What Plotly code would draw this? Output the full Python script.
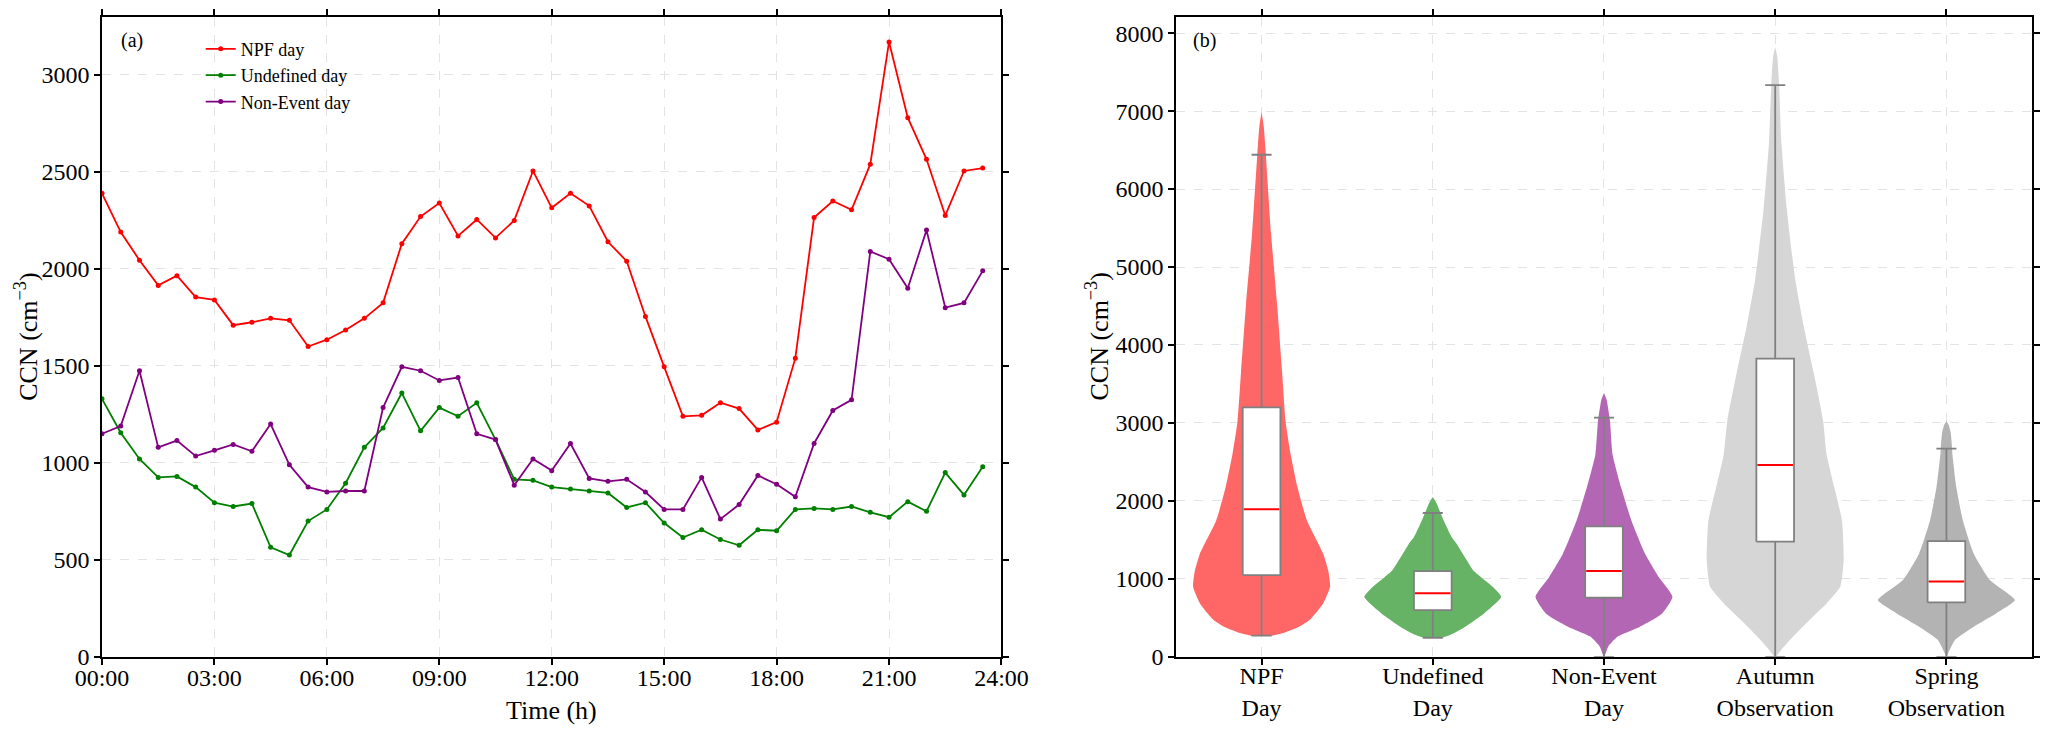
import plotly.graph_objects as go

# ---- panel (a): diurnal CCN, half-hour steps ----
hours = [0.0, 0.5, 1.0, 1.5, 2.0, 2.5, 3.0, 3.5, 4.0, 4.5, 5.0, 5.5,
         6.0, 6.5, 7.0, 7.5, 8.0, 8.5, 9.0, 9.5, 10.0, 10.5, 11.0, 11.5,
         12.0, 12.5, 13.0, 13.5, 14.0, 14.5, 15.0, 15.5, 16.0, 16.5, 17.0, 17.5,
         18.0, 18.5, 19.0, 19.5, 20.0, 20.5, 21.0, 21.5, 22.0, 22.5, 23.0, 23.5]

npf_day = [2390, 2190, 2045, 1915, 1965, 1855, 1840, 1710, 1725, 1745, 1735, 1600,
           1635, 1685, 1745, 1825, 2130, 2270, 2340, 2170, 2255, 2160, 2250, 2505,
           2315, 2390, 2325, 2140, 2040, 1755, 1495, 1240, 1245, 1310, 1280, 1170,
           1210, 1540, 2265, 2350, 2305, 2540, 3170, 2780, 2565, 2275, 2505, 2520]

undefined_day = [1330, 1155, 1020, 925, 930, 875, 795, 775, 790, 565, 525, 700,
                 760, 895, 1080, 1180, 1360, 1165, 1285, 1240, 1310, 1120, 915, 910,
                 875, 865, 855, 845, 770, 795, 690, 615, 655, 605, 575, 655,
                 650, 760, 765, 760, 775, 745, 720, 800, 750, 950, 835, 980]

non_event_day = [1150, 1190, 1475, 1080, 1115, 1035, 1065, 1095, 1060, 1200, 990, 875,
                 850, 855, 855, 1285, 1495, 1475, 1425, 1440, 1150, 1120, 885, 1020,
                 960, 1100, 920, 905, 915, 850, 760, 760, 925, 710, 785, 935,
                 890, 825, 1100, 1270, 1325, 2090, 2050, 1900, 2200, 1800, 1825, 1990]

time_ticks = [0, 3, 6, 9, 12, 15, 18, 21, 24]
time_labels = ["00:00", "03:00", "06:00", "09:00", "12:00", "15:00", "18:00", "21:00", "24:00"]

# ---- panel (b): distributions ----
groups = ["NPF<br>Day", "Undefined<br>Day", "Non-Event<br>Day",
          "Autumn<br>Observation", "Spring<br>Observation"]
q1 = [1048, 600, 758, 1477, 698]
median = [1892, 817, 1100, 2460, 966]
q3 = [3199, 1100, 1673, 3824, 1485]
whisker_low = [272, 245, 0, 0, 0]
whisker_high = [6440, 1845, 3068, 7333, 2670]

# violin outlines: CCN level and half width (in category units)
npf_levels = [268, 302, 387, 472, 685, 898, 1100, 1323, 1749, 2174, 2600, 3026,
              3652, 4545, 5439, 6440, 6800, 6988]
npf_hw = [0.055, 0.12, 0.22, 0.28, 0.36, 0.40, 0.39, 0.36, 0.265, 0.21, 0.17, 0.14,
          0.12, 0.09, 0.055, 0.025, 0.013, 0.0]
und_levels = [240, 300, 387, 557, 770, 900, 1025, 1100, 1323, 1448, 1536, 1749, 1845, 1980, 2050]
und_hw = [0.05, 0.12, 0.19, 0.30, 0.40, 0.35, 0.28, 0.24, 0.175, 0.14, 0.11, 0.064, 0.045, 0.02, 0.0]
non_levels = [0, 132, 260, 387, 557, 770, 1025, 1323, 1749, 2174, 2600, 3026, 3300, 3384]
non_hw = [0.0, 0.025, 0.08, 0.21, 0.34, 0.40, 0.32, 0.24, 0.16, 0.10, 0.05, 0.035, 0.015, 0.0]
aut_levels = [0, 89, 260, 472, 685, 898, 1238, 1749, 2174, 2600, 3026, 3652, 4247,
              4843, 5737, 6630, 7333, 7700, 7822]
aut_hw = [0.0, 0.035, 0.105, 0.20, 0.30, 0.38, 0.40, 0.39, 0.345, 0.30, 0.28, 0.224, 0.166,
          0.117, 0.068, 0.035, 0.023, 0.012, 0.0]
spr_levels = [0, 47, 217, 387, 557, 728, 983, 1323, 1749, 2174, 2600, 2680, 2877, 2980, 3026]
spr_hw = [0.0, 0.01, 0.05, 0.16, 0.29, 0.40, 0.255, 0.16, 0.096, 0.058, 0.035, 0.033, 0.025, 0.012, 0.0]

violins = [(npf_levels, npf_hw), (und_levels, und_hw), (non_levels, non_hw),
           (aut_levels, aut_hw), (spr_levels, spr_hw)]
violin_colors = ["#ff6666", "#66b366", "#b366b3", "#d6d6d6", "#b3b3b3"]

FONT = "Liberation Serif"
BOX_W = 0.22
CAP_W = 0.117
BOX_LINE = dict(color="#808080", width=1.8)

fig = go.Figure()

# left panel lines
for name, vals, col in [("NPF day", npf_day, "red"),
                        ("Undefined day", undefined_day, "green"),
                        ("Non-Event day", non_event_day, "purple")]:
    fig.add_trace(go.Scatter(x=hours, y=vals, mode="lines+markers", name=name,
                             line=dict(color=col, width=1.8),
                             marker=dict(color=col, size=5),
                             xaxis="x", yaxis="y"))

# right panel violins
for i, ((lev, hw), col) in enumerate(zip(violins, violin_colors)):
    xs = [i + w for w in hw] + [i - w for w in reversed(hw)]
    ys = list(lev) + list(reversed(lev))
    fig.add_trace(go.Scatter(x=xs, y=ys, mode="lines", fill="toself",
                             fillcolor=col,
                             line=dict(width=0, color=col, shape="spline", smoothing=0.5),
                             showlegend=False, hoverinfo="skip",
                             xaxis="x2", yaxis="y2"))

# whiskers and caps (scatter layer so they sit over the violins)
pos = list(range(len(groups)))
wx, wy = [], []
for i, lo, hi in zip(pos, whisker_low, whisker_high):
    wx += [i, i, None, i - CAP_W / 2, i + CAP_W / 2, None, i - CAP_W / 2, i + CAP_W / 2, None]
    wy += [lo, hi, None, hi, hi, None, lo, lo, None]
fig.add_trace(go.Scatter(x=wx, y=wy, mode="lines", line=BOX_LINE,
                         showlegend=False, hoverinfo="skip", xaxis="x2", yaxis="y2"))

# white boxes q1..q3
for i, a, b in zip(pos, q1, q3):
    x0, x1 = i - BOX_W / 2, i + BOX_W / 2
    fig.add_trace(go.Scatter(x=[x0, x1, x1, x0, x0], y=[a, a, b, b, a], mode="lines",
                             fill="toself", fillcolor="white", line=BOX_LINE,
                             showlegend=False, hoverinfo="skip", xaxis="x2", yaxis="y2"))

# red median lines
mx, my = [], []
for i, m in zip(pos, median):
    mx += [i - BOX_W / 2 + 0.006, i + BOX_W / 2 - 0.006, None]
    my += [m, m, None]
fig.add_trace(go.Scatter(x=mx, y=my, mode="lines", line=dict(color="red", width=2),
                         showlegend=False, hoverinfo="skip", xaxis="x2", yaxis="y2"))

axis_common = dict(showline=True, linecolor="black", linewidth=1.5, mirror="ticks",
                   ticks="outside", ticklen=6, tickwidth=1.5, tickcolor="black",
                   showgrid=True, gridcolor="#e3e3e3", griddash="dash", gridwidth=1,
                   zeroline=False, automargin=False,
                   tickfont=dict(family=FONT, size=24, color="black"))

ann = dict(xref="paper", yref="paper", showarrow=False, xanchor="center", yanchor="middle")

fig.update_layout(
    width=2048, height=729,
    margin=dict(l=0, r=0, t=0, b=0),
    paper_bgcolor="white", plot_bgcolor="white",
    font=dict(family=FONT, color="black"),
    xaxis=dict(domain=[0.0498, 0.489], range=[0, 24], tickvals=time_ticks,
               ticktext=time_labels, ticklabelstandoff=-7, **axis_common),
    yaxis=dict(domain=[0.099, 0.977], range=[0, 3300], dtick=500, **axis_common),
    xaxis2=dict(domain=[0.5742, 0.9922], range=[-0.5, 4.5], tickvals=pos,
                ticktext=groups, anchor="y2", ticklabelstandoff=-9, **axis_common),
    yaxis2=dict(domain=[0.099, 0.977], range=[0, 8210], dtick=1000, anchor="x2",
                **axis_common),
    legend=dict(x=0.098, y=0.958, xanchor="left", yanchor="top",
                bgcolor="rgba(0,0,0,0)", font=dict(family=FONT, size=18),
                tracegroupgap=0),
    annotations=[
        dict(text="(a)", x=0.0645, y=0.944, font=dict(family=FONT, size=20), **ann),
        dict(text="(b)", x=0.588, y=0.944, font=dict(family=FONT, size=20), **ann),
        dict(text="Time (h)", x=0.2695, y=0.026, font=dict(family=FONT, size=26), **ann),
        dict(text="CCN (cm<sup>−3</sup>)", x=0.0132, y=0.538, textangle=-90,
             font=dict(family=FONT, size=26), **ann),
        dict(text="CCN (cm<sup>−3</sup>)", x=0.536, y=0.538, textangle=-90,
             font=dict(family=FONT, size=26), **ann),
    ],
)

fig.write_html("out.html", config={"displayModeBar": False},
               post_script="document.body.style.margin='0';")
